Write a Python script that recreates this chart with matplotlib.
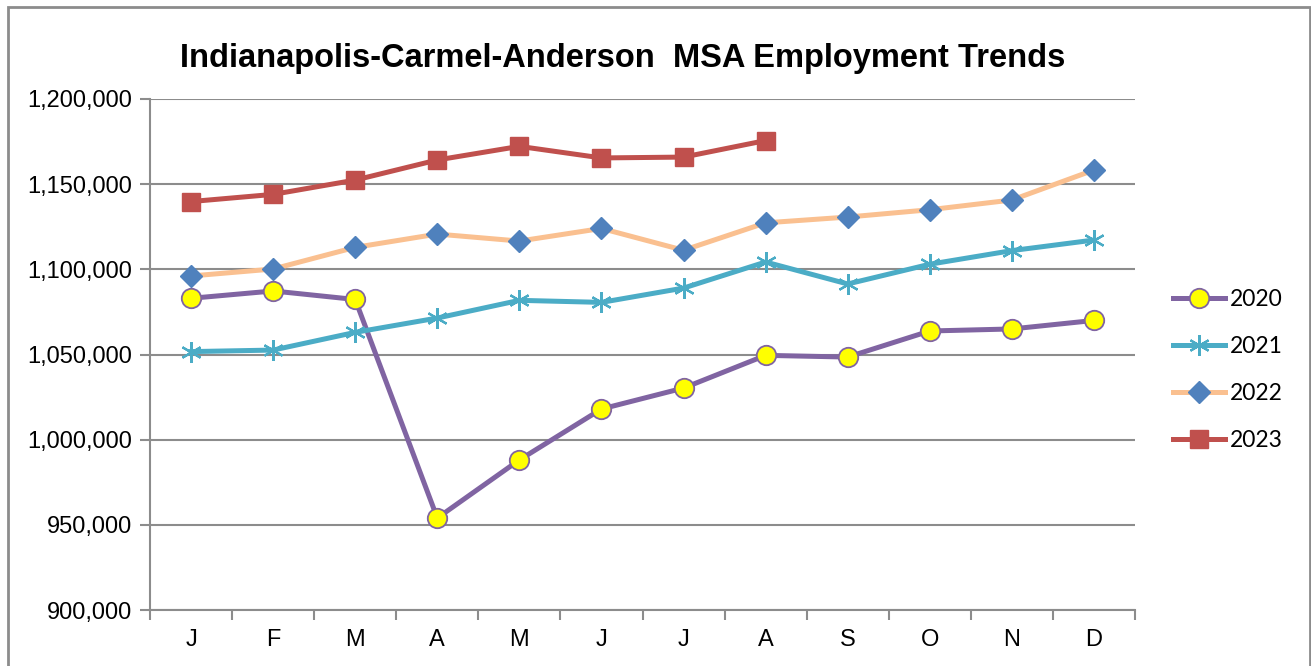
import matplotlib
matplotlib.use("Agg")
import matplotlib.pyplot as plt
from matplotlib.ticker import FuncFormatter, FixedLocator, NullFormatter
from matplotlib.patches import Rectangle

months = ["J", "F", "M", "A", "M", "J", "J", "A", "S", "O", "N", "D"]
emp_2020 = [1083000, 1087300, 1082300, 954000, 988100, 1018000, 1030300, 1049500, 1048500, 1063800, 1065000, 1070000]
emp_2021 = [1051700, 1052600, 1063000, 1071400, 1081800, 1080600, 1089000, 1104300, 1091400, 1103000, 1111000, 1117200]
emp_2022 = [1096100, 1100200, 1112900, 1120700, 1116600, 1124000, 1111200, 1127300, 1130700, 1135000, 1140700, 1158300]
emp_2023 = [1139800, 1144000, 1152400, 1164200, 1172200, 1165400, 1165900, 1175600]
yticks = [900000, 950000, 1000000, 1050000, 1100000, 1150000, 1200000]

W, H = 1311, 666
fig = plt.figure(figsize=(W / 100, H / 100), dpi=100)
fig.patch.set_facecolor("white")
fig.patches.append(Rectangle((8 / W, -0.05), (1310 - 8) / W, 1.05 - 7 / H,
                             transform=fig.transFigure, fill=False,
                             edgecolor="#8c8c8c", linewidth=2))

ax = fig.add_axes([150 / W, 1 - 610 / H, (1135 - 150) / W, (610 - 99) / H])
x = list(range(len(months)))

ax.plot(x, emp_2020, color="#8064A2", lw=3.6, marker="o", ms=14,
        mfc="#FFFF00", mec="#8064A2", mew=1.3, label="2020", zorder=3)
ax.plot(x, emp_2021, color="#4BACC6", lw=3.6, marker=(6, 2, 0), ms=15,
        mec="#4BACC6", mew=1.6, label="2021", zorder=3)
ax.plot(x, emp_2022, color="#FAC090", lw=3.6, marker="D", ms=11.5,
        mfc="#4F81BD", mec="#4F81BD", label="2022", zorder=3)
ax.plot(x[:len(emp_2023)], emp_2023, color="#C0504D", lw=3.6, marker="s", ms=13,
        mfc="#C0504D", mec="#C0504D", label="2023", zorder=3)

ax.set_xlim(-0.5, 11.5)
ax.set_ylim(900000, 1200000)
ax.set_yticks(yticks)
ax.yaxis.set_major_formatter(FuncFormatter(lambda v, p: f"{int(v):,}"))
ax.yaxis.grid(True, color="#8c8c8c", lw=1.5)
ax.set_axisbelow(True)

ax.xaxis.set_major_locator(FixedLocator([i - 0.5 for i in range(13)]))
ax.xaxis.set_major_formatter(NullFormatter())
ax.xaxis.set_minor_locator(FixedLocator(x))
ax.set_xticklabels(months, minor=True)
ax.tick_params(axis="x", which="major", length=7, width=1.5, color="#8c8c8c", direction="out")
ax.tick_params(axis="x", which="minor", length=0, pad=14, labelsize=17)
ax.tick_params(axis="y", length=7, width=1.5, color="#8c8c8c", labelsize=17, pad=6)

for lab in ax.get_xticklabels(minor=True) + ax.get_yticklabels():
    lab.set_fontfamily("Liberation Sans")

for s in ["top", "right"]:
    ax.spines[s].set_visible(False)
for s in ["left", "bottom"]:
    ax.spines[s].set_color("#8c8c8c")
    ax.spines[s].set_linewidth(1.5)

fig.text(623 / W, 1 - 59 / H, "Indianapolis-Carmel-Anderson  MSA Employment Trends",
         ha="center", va="center", fontsize=23.5, fontweight="bold",
         fontfamily="Liberation Sans")

leg = ax.legend(loc="center left", bbox_to_anchor=(1.018, 0.47), frameon=False,
                prop={"family": "Lato", "size": 16.5}, handlelength=2.25,
                handletextpad=0.2, labelspacing=1.14)

fig.savefig("out.png", dpi=100, facecolor="white")
